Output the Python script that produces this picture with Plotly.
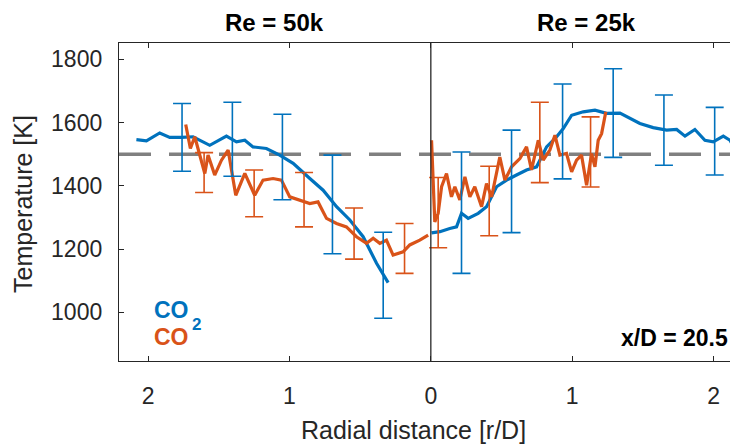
import plotly.graph_objects as go

BLUE = "#0072BD"
ORANGE = "#D95319"
FONT = "Liberation Sans"
TXT = "#262626"

# Re = 50k side (radial distance r/D, plotted on the left, mirrored)
r50_co2 = [2.083, 2.012, 1.918, 1.847, 1.764, 1.682, 1.564, 1.446, 1.375, 1.316, 1.258,
           1.163, 1.069, 0.974, 0.856, 0.762, 0.667, 0.573, 0.479, 0.384, 0.302]
T50_co2 = [1546, 1542, 1567, 1553, 1553, 1555, 1528, 1557, 1539, 1544, 1523,
           1518, 1497, 1471, 1423, 1386, 1334, 1292, 1239, 1155, 1094]

r50_co = [1.734, 1.701, 1.670, 1.635, 1.599, 1.576, 1.529, 1.481, 1.434, 1.380, 1.316,
          1.246, 1.187, 1.116, 1.057, 0.998, 0.927, 0.856, 0.798, 0.738, 0.667, 0.597,
          0.526, 0.455, 0.408, 0.361, 0.314, 0.267, 0.196, 0.149, 0.078, 0.019]
T50_co = [1594, 1518, 1555, 1502, 1439, 1497, 1434, 1481, 1513, 1370, 1439,
          1370, 1418, 1423, 1418, 1365, 1355, 1344, 1349, 1297, 1281, 1270,
          1239, 1218, 1234, 1218, 1228, 1181, 1191, 1213, 1228, 1244]

# Re = 25k side (plotted on the right)
r25_co2 = [0.005, 0.064, 0.134, 0.182, 0.217, 0.264, 0.335, 0.394, 0.465, 0.536, 0.606,
           0.677, 0.748, 0.819, 0.890, 0.937, 0.996, 1.078, 1.161, 1.243, 1.338, 1.408,
           1.479, 1.573, 1.668, 1.739, 1.798, 1.868, 1.939, 1.998, 2.069, 2.116, 2.163]
T25_co2 = [1251, 1255, 1265, 1270, 1313, 1297, 1313, 1334, 1397, 1418, 1434,
           1450, 1460, 1523, 1555, 1581, 1623, 1634, 1639, 1629, 1630, 1613,
           1597, 1584, 1576, 1578, 1557, 1578, 1544, 1539, 1557, 1544, 1507]

r25_co = [0.005, 0.017, 0.028, 0.052, 0.076, 0.111, 0.146, 0.170, 0.205, 0.241, 0.276,
          0.311, 0.359, 0.394, 0.430, 0.488, 0.524, 0.571, 0.630, 0.677, 0.712, 0.760,
          0.795, 0.842, 0.878, 0.913, 0.960, 0.996, 1.031, 1.066, 1.102, 1.137, 1.161,
          1.184, 1.208, 1.238]
T25_co = [1544, 1418, 1286, 1313, 1397, 1439, 1365, 1397, 1355, 1428, 1365,
          1397, 1334, 1407, 1365, 1491, 1418, 1460, 1486, 1523, 1450, 1544,
          1481, 1513, 1560, 1497, 1502, 1444, 1481, 1497, 1402, 1502, 1460,
          1544, 1565, 1634]

# Error bars: position, centre, half-range
eb50_co2_r = [1.760, 1.404, 1.050, 0.696, 0.337]
eb50_co2_T = [1553, 1547, 1491, 1341, 1117]
eb50_co2_e = [107, 117, 135, 156, 136]

eb50_co_r = [1.604, 1.250, 0.897, 0.543, 0.186]
eb50_co_T = [1442, 1376, 1356, 1249, 1202]
eb50_co_e = [63, 74, 86, 81, 79]

eb25_co2_r = [0.217, 0.571, 0.932, 1.290, 1.649, 2.008]
eb25_co2_T = [1315, 1414, 1572, 1630, 1576, 1541]
eb25_co2_e = [192, 162, 150, 140, 111, 107]

eb25_co_r = [0.052, 0.413, 0.771, 1.130]
eb25_co_T = [1315, 1352, 1537, 1507]
eb25_co_e = [111, 110, 127, 111]

T_ref = 1500
x_tickvals = [-2, -1, 0, 1, 2]
x_ticktext = ["2", "1", "0", "1", "2"]
y_tickvals = [1000, 1200, 1400, 1600, 1800]

fig = go.Figure()

def line(x, y, color):
    fig.add_trace(go.Scatter(x=x, y=y, mode="lines",
                             line=dict(color=color, width=3.2), showlegend=False,
                             hoverinfo="skip"))

def ebar(x, y, e, color):
    fig.add_trace(go.Scatter(x=x, y=y, mode="markers",
                             marker=dict(size=1, color="rgba(0,0,0,0)"),
                             error_y=dict(type="data", array=e, symmetric=True,
                                          color=color, thickness=1.6, width=9),
                             showlegend=False, hoverinfo="skip"))

line([-r for r in r50_co2], T50_co2, BLUE)
line(r25_co2, T25_co2, BLUE)
line([-r for r in r50_co], T50_co, ORANGE)
line(r25_co, T25_co, ORANGE)
ebar([-r for r in eb50_co2_r], eb50_co2_T, eb50_co2_e, BLUE)
ebar(eb25_co2_r, eb25_co2_T, eb25_co2_e, BLUE)
ebar([-r for r in eb50_co_r], eb50_co_T, eb50_co_e, ORANGE)
ebar(eb25_co_r, eb25_co_T, eb25_co_e, ORANGE)

fig.add_shape(type="line", xref="paper", x0=0, x1=1, yref="y", y0=T_ref, y1=T_ref,
              line=dict(color="#808080", width=3.5, dash="32px,18px"), layer="below")
fig.add_shape(type="line", xref="x", x0=0, x1=0, yref="paper", y0=0, y1=1,
              line=dict(color="#262626", width=1.3))

for txt, xv in [("<b>Re = 50k</b>", -1.103), ("<b>Re = 25k</b>", 1.103)]:
    fig.add_annotation(text=txt, x=xv, xref="x", y=1.063, yref="paper",
                       showarrow=False, xanchor="center", yanchor="middle",
                       font=dict(family=FONT, size=24, color="black"))

fig.add_annotation(text="<b>x/D = 20.5</b>", x=0.987, xref="paper", y=0.071, yref="paper",
                   showarrow=False, xanchor="right", yanchor="middle",
                   font=dict(family=FONT, size=23, color="black"))
fig.add_annotation(text="<b>CO</b>", x=0.0533, xref="paper", y=0.160, yref="paper",
                   showarrow=False, xanchor="left", yanchor="middle",
                   font=dict(family=FONT, size=23, color=BLUE))
fig.add_annotation(text="<b>2</b>", x=0.126, xref="paper", y=0.116, yref="paper",
                   showarrow=False, xanchor="center", yanchor="middle",
                   font=dict(family=FONT, size=17, color=BLUE))
fig.add_annotation(text="<b>CO</b>", x=0.0533, xref="paper", y=0.0755, yref="paper",
                   showarrow=False, xanchor="left", yanchor="middle",
                   font=dict(family=FONT, size=23, color=ORANGE))
fig.add_annotation(text="Radial distance [r/D]", x=(413.7 - 119) / 619, xref="paper",
                   y=-0.217, yref="paper", showarrow=False, xanchor="center", yanchor="middle",
                   font=dict(family=FONT, size=25, color=TXT))
fig.add_annotation(text="Temperature [K]", x=-0.155, xref="paper", y=0.494, yref="paper",
                   textangle=-90, showarrow=False, xanchor="center", yanchor="middle",
                   font=dict(family=FONT, size=25, color=TXT))

# page body has an 8px margin, so the figure is 730x437 starting at (8, 8)
fig.update_layout(
    width=730, height=437,
    margin=dict(l=111, r=0, t=35, b=84),
    paper_bgcolor="white", plot_bgcolor="white",
    font=dict(family=FONT, color=TXT),
    showlegend=False,
    xaxis=dict(range=[-2.206, 2.173], tickvals=x_tickvals, ticktext=x_ticktext,
               showgrid=False, zeroline=False, showline=True, linecolor="#262626",
               linewidth=1.3, mirror="ticks", ticks="inside", ticklen=5, tickwidth=1.2,
               tickcolor="#262626", tickfont=dict(family=FONT, size=23, color=TXT),
               ticklabelstandoff=14),
    yaxis=dict(range=[846, 1851.5], tickvals=y_tickvals,
               showgrid=False, zeroline=False, showline=True, linecolor="#262626",
               linewidth=1.3, ticks="inside", ticklen=5, tickwidth=1.2,
               tickcolor="#262626", tickfont=dict(family=FONT, size=23, color=TXT),
               ticklabelstandoff=11),
)

fig.write_html("out.html")
